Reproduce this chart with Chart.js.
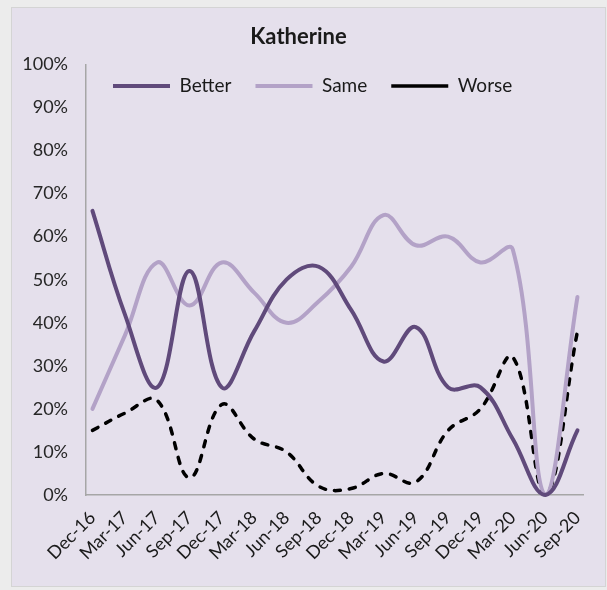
<!DOCTYPE html>
<html>
<head>
<meta charset="utf-8">
<script src="https://cdn.jsdelivr.net/npm/chart.js@4"></script>
<style>
  body { margin: 0; background: #ececec; }
  .frame {
    position: absolute; left: 11px; top: 7px;
    width: 593px; height: 578px;
    background: #e5e0ec; border: 1px solid #d4d4d4;
  }
</style>
</head>
<body>
<div class="frame"><canvas id="chart" width="593" height="578"></canvas></div>
<script>
const quarters = ['Dec-16', 'Mar-17', 'Jun-17', 'Sep-17', 'Dec-17', 'Mar-18', 'Jun-18', 'Sep-18',
                  'Dec-18', 'Mar-19', 'Jun-19', 'Sep-19', 'Dec-19', 'Mar-20', 'Jun-20', 'Sep-20'];
const better = [66, 42, 25, 52, 25, 38, 50, 53, 43, 31, 39, 25, 25, 13, 0, 15];
const same   = [20, 37, 54, 44, 54, 47, 40, 45, 53, 65, 58, 60, 54, 57, 0, 46];
const worse  = [15, 19, 22, 4, 21, 13, 10, 2, 1.5, 5, 3, 15, 20, 32, 0, 38];

const FONT = 'Lato, "Open Sans", sans-serif';

const toPoints = (arr) => arr.map((v, i) => ({ x: i, y: v }));

// legend sits inside the plot area in one row, like the original
const legendInside = {
    id: 'legendInside',
    afterInit(chart) {
        if (chart.legend) chart.legend.isHorizontal = () => true;
    },
    afterLayout(chart) {
        const lg = chart.legend;
        if (!lg) return;
        lg.left = chart.chartArea.left + 3;
        lg.right = chart.chartArea.right;
        lg.top -= 12;
    }
};

new Chart(document.getElementById('chart'), {
    type: 'line',
    data: {
        datasets: [
            {
                label: 'Better',
                data: toPoints(better),
                borderColor: '#604a7b',
                backgroundColor: '#604a7b',
                borderWidth: 4,
                borderCapStyle: 'round',
                pointStyle: 'line',
            },
            {
                label: 'Same',
                data: toPoints(same),
                borderColor: '#b3a2c7',
                backgroundColor: '#b3a2c7',
                borderWidth: 4,
                borderCapStyle: 'round',
                pointStyle: 'line',
            },
            {
                label: 'Worse',
                data: toPoints(worse),
                borderColor: '#000000',
                backgroundColor: '#000000',
                borderWidth: 3.5,
                borderDash: [6, 9],
                borderCapStyle: 'round',
                pointStyle: 'line',
            },
        ]
    },
    options: {
        responsive: false,
        animation: false,
        clip: 6,
        elements: {
            point: { radius: 0, hoverRadius: 0 },
            line: { tension: 0.4 }
        },
        layout: { padding: { left: 0, right: 20, top: 0, bottom: 0 } },
        plugins: {
            title: {
                display: true,
                text: 'Katherine',
                color: '#1a1a1a',
                font: { family: FONT, size: 22, weight: 'bold' },
                padding: { top: 16, bottom: 14 }
            },
            legend: {
                position: 'chartArea',
                align: 'start',
                labels: {
                    usePointStyle: true,
                    pointStyleWidth: 57,
                    padding: 24,
                    color: '#1a1a1a',
                    font: { family: FONT, size: 19 }
                }
            },
            tooltip: { enabled: false }
        },
        scales: {
            x: {
                type: 'linear',
                min: -0.2,
                max: 15.2,
                grid: { display: false, drawTicks: false },
                border: { display: true, color: '#a6a6a6', width: 1.5 },
                afterBuildTicks: (scale) => {
                    scale.ticks = quarters.map((q, i) => ({ value: i }));
                },
                afterFit: (scale) => { scale.height = 91; },
                ticks: {
                    autoSkip: false,
                    minRotation: 45,
                    maxRotation: 45,
                    padding: 12,
                    color: '#1a1a1a',
                    font: { family: FONT, size: 18 },
                    callback: (value) => quarters[value]
                }
            },
            y: {
                min: 0,
                max: 100,
                grid: { display: false, drawTicks: false },
                border: { display: true, color: '#a6a6a6', width: 1.5 },
                afterFit: (scale) => { scale.width = 74; },
                ticks: {
                    stepSize: 10,
                    padding: 18,
                    color: '#262626',
                    font: { family: FONT, size: 18 },
                    callback: (value) => value + '%'
                }
            }
        }
    },
    plugins: [legendInside]
});
</script>
</body>
</html>
